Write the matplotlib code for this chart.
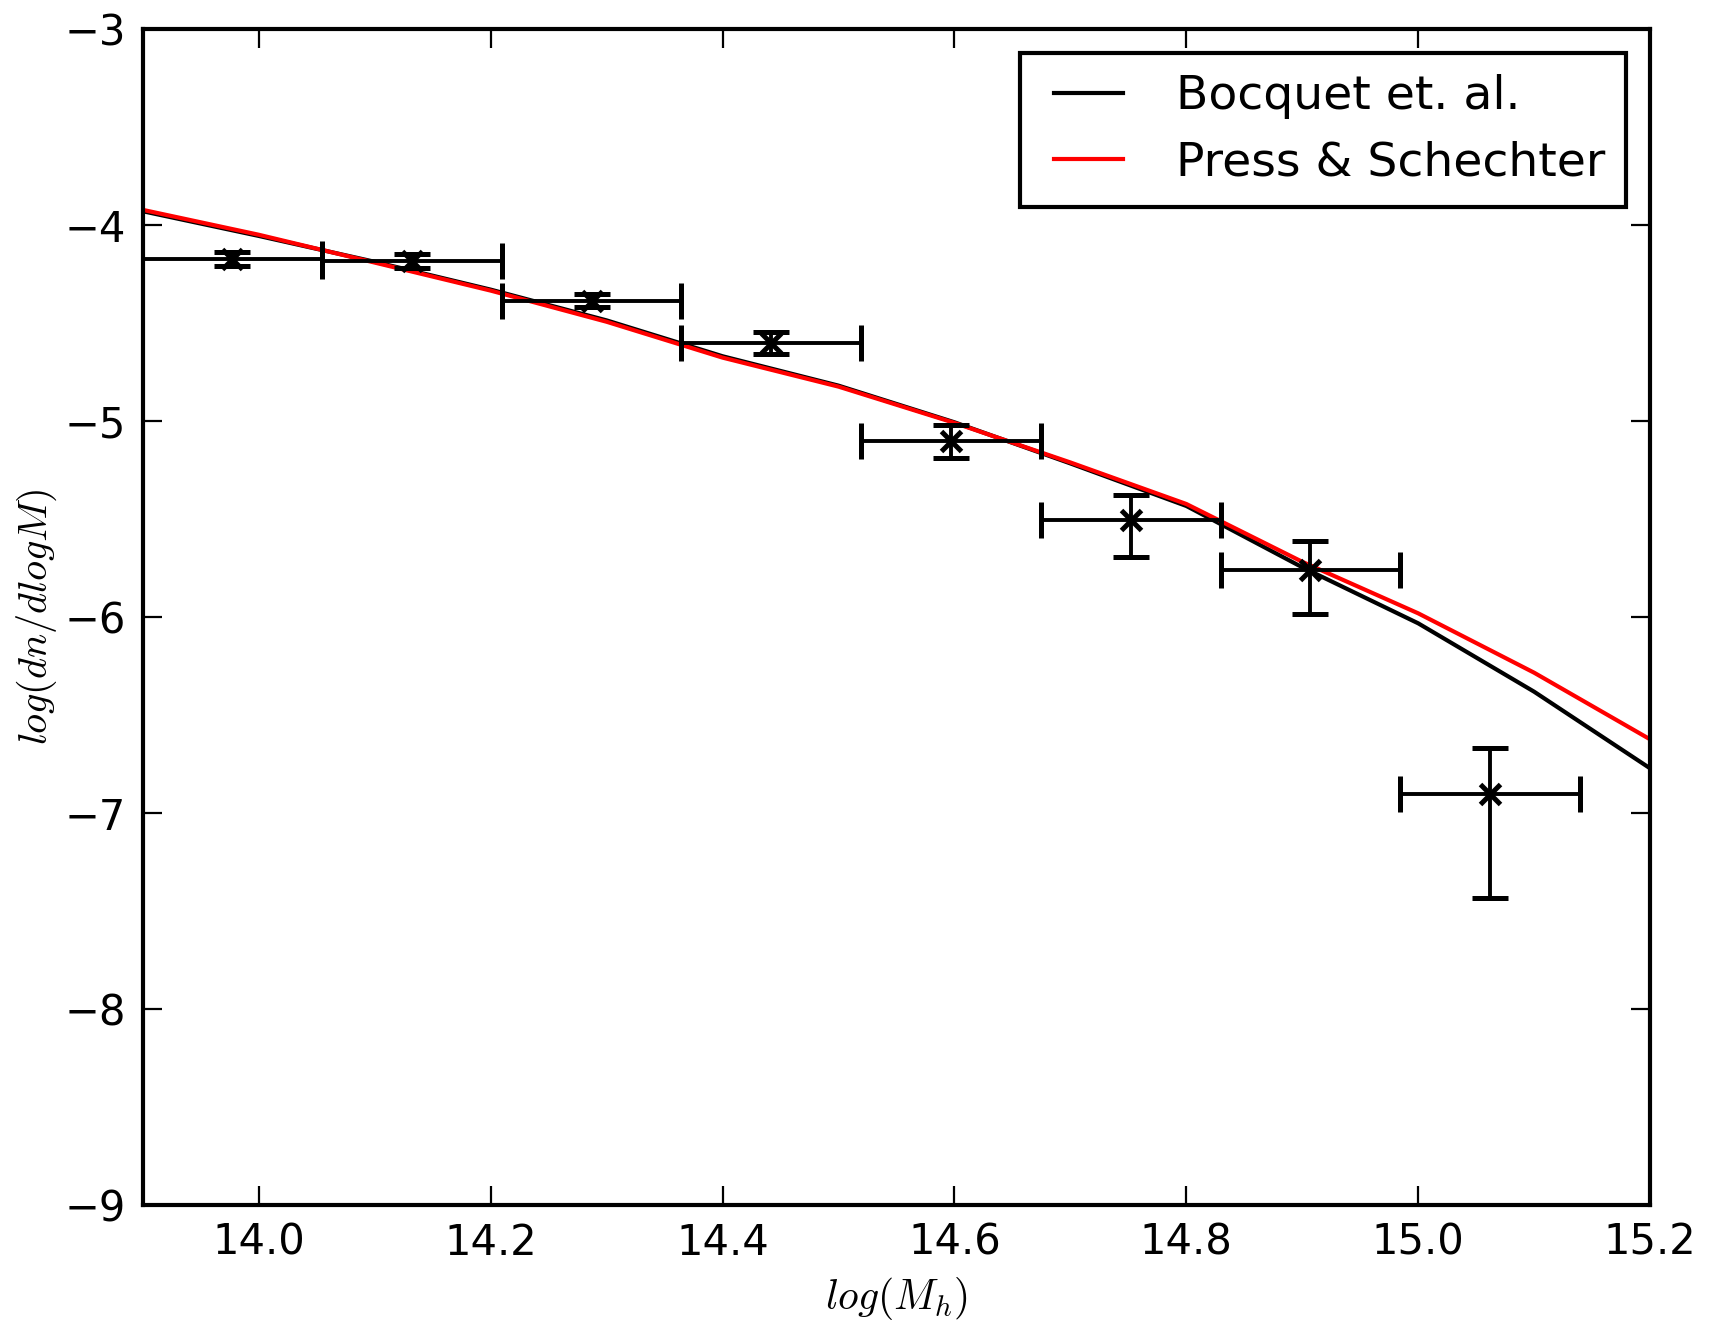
import matplotlib
matplotlib.use('Agg')
import matplotlib.pyplot as plt
from matplotlib.legend_handler import HandlerLine2D
import numpy as np

plt.rcParams['mathtext.fontset'] = 'cm'
plt.rcParams['font.family'] = ['DejaVu Sans']

# halo mass function curves
mass_grid = [13.9, 14.0, 14.1, 14.2, 14.3, 14.4, 14.5, 14.6, 14.7, 14.8, 14.9, 15.0, 15.1, 15.2]
bocquet = [-3.928, -4.054, -4.186, -4.328, -4.485, -4.668, -4.818, -5.005, -5.215,
           -5.432, -5.745, -6.031, -6.380, -6.771]
press_schechter = [-3.921, -4.048, -4.190, -4.333, -4.492, -4.675, -4.823, -5.008, -5.210,
                   -5.422, -5.717, -5.980, -6.283, -6.623]

# binned cluster counts
bin_centers = [13.977, 14.132, 14.287, 14.442, 14.597, 14.752, 14.907, 15.062]
bin_halfwidth = [0.0775] * 8
counts = [-4.171, -4.182, -4.384, -4.599, -5.099, -5.505, -5.759, -6.901]
err_up = [0.035, 0.035, 0.035, 0.055, 0.079, 0.130, 0.148, 0.236]
err_down = [0.035, 0.035, 0.035, 0.057, 0.087, 0.190, 0.226, 0.533]


class ShortLine(HandlerLine2D):
    # old-style legend: the sample line sits at the right of its box
    def get_xdata(self, legend, xdescent, ydescent, width, height, fontsize):
        x0 = -xdescent + 0.16 * width
        return np.array([x0, -xdescent + width]), np.array([x0, -xdescent + width])


fig = plt.figure(figsize=(8.57, 6.66), dpi=200)
ax = fig.add_axes([0.0834, 0.0953, 0.9627 - 0.0834, 0.9779 - 0.0953])

ax.plot(mass_grid, bocquet, color='black', linewidth=1.5, label='Bocquet et. al.')
ax.plot(mass_grid, press_schechter, color='red', linewidth=1.5, label='Press & Schechter')
ax.errorbar(bin_centers, counts, xerr=bin_halfwidth, yerr=[err_down, err_up],
            fmt='x', color='black', ecolor='black', elinewidth=1.4, capsize=6.5,
            capthick=0.8, markersize=7, markeredgewidth=1.8)

ax.set_xlim(13.9, 15.2)
ax.set_ylim(-9, -3)
ax.set_xticks([14.0, 14.2, 14.4, 14.6, 14.8, 15.0, 15.2])
ax.set_yticks([-9, -8, -7, -6, -5, -4, -3])
ax.tick_params(direction='in', top=True, right=True, length=7, width=0.8,
               labelsize=15, pad=6)
for sp in ax.spines.values():
    sp.set_linewidth(1.5)

ax.set_xlabel(r'$log(M_h)$', fontsize=15)
ax.set_ylabel(r'$log(dn/dlogM)$', fontsize=14.5, labelpad=2)

leg = ax.legend(loc='upper right', fontsize=17, fancybox=False, handlelength=1.74,
                handletextpad=1.12, borderpad=0.45, labelspacing=0.45, framealpha=1,
                handler_map={plt.Line2D: ShortLine()})
leg.get_frame().set_edgecolor('black')
leg.get_frame().set_linewidth(1.5)

fig.savefig('out.png', dpi=200)
